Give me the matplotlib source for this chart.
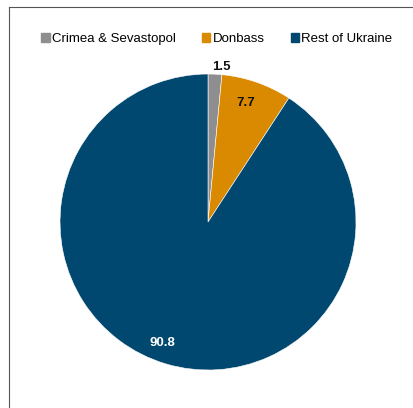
import numpy as np
import matplotlib
matplotlib.use("Agg")
import matplotlib.pyplot as plt
from matplotlib.lines import Line2D

plt.rcParams['font.family'] = ['Liberation Sans', 'DejaVu Sans']

regiones = ["Crimea & Sevastopol", "Donbass", "Rest of Ukraine"]
valores = [1.5, 7.7, 90.8]
colores = ["#8e8e90", "#d98a00", "#00486f"]
colores_texto = ["#111111", "#111111", "white"]
distancias = [1.06, 0.86, 0.86]
desplazamientos = [(4, -1), (-3, -1), (-7, 1)]  # ajuste fino en puntos

fig = plt.figure(figsize=(4.13, 4.08), dpi=100)
ax = fig.add_axes([0.1453, 0.0931, 0.7167, 0.7255])

wedges, _ = ax.pie(valores, colors=colores, startangle=90, counterclock=False,
                   wedgeprops=dict(edgecolor="white", linewidth=0.4))
ax.set_xlim(-1, 1)
ax.set_ylim(-1, 1)

# Etiquetas de cada porción
for w, val, col, d, off in zip(wedges, valores, colores_texto, distancias, desplazamientos):
    ang = np.deg2rad((w.theta1 + w.theta2) / 2)
    ax.annotate(f"{val}", (d * np.cos(ang), d * np.sin(ang)), xytext=off,
                textcoords="offset points", ha="center", va="center",
                fontsize=9.5, fontweight="bold", color=col, annotation_clip=False)

handles = [plt.Rectangle((0, 0), 1, 1, color=c) for c in colores]
fig.legend(handles, regiones, loc="center", bbox_to_anchor=(0.525, 0.904), ncol=3,
           frameon=False, fontsize=9.5, handlelength=0.65, handleheight=0.65,
           handletextpad=0.15, columnspacing=2.0)

# Marco
fig.add_artist(Line2D([0.023, 0.023], [0, 0.984], color="#555555", lw=0.8))
fig.add_artist(Line2D([0.023, 1.0], [0.984, 0.984], color="#555555", lw=0.8))

fig.savefig("out.png", dpi=100)
